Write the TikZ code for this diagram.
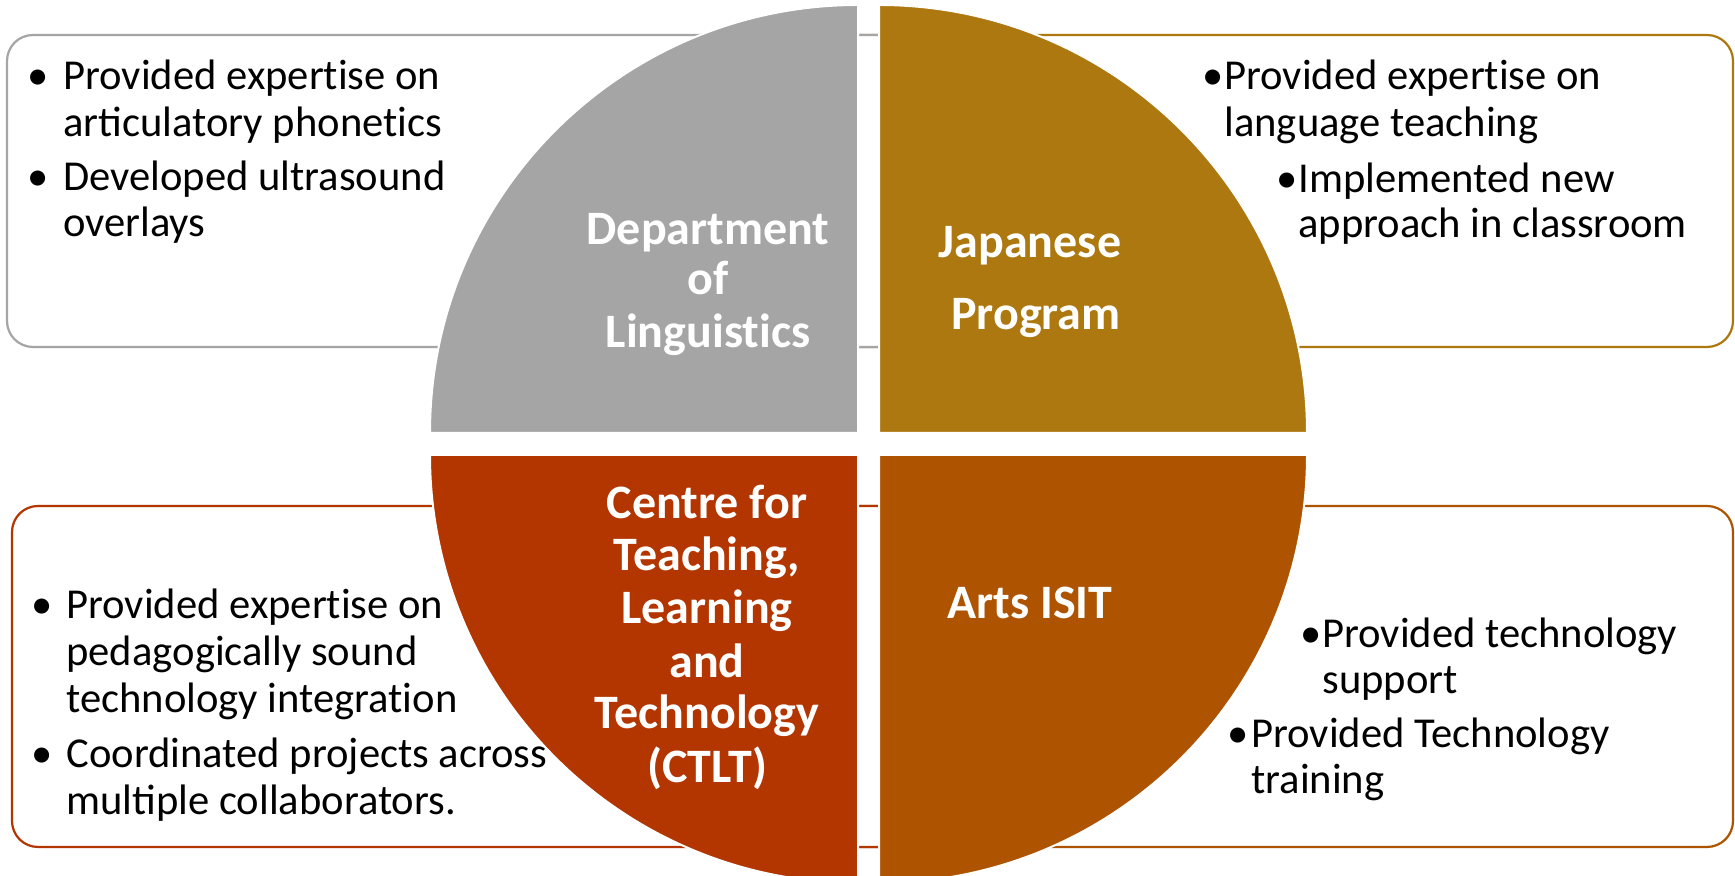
\documentclass[tikz,border=0pt]{standalone}
\usepackage{fontspec}
\setmainfont{Carlito}
\newcommand{\nolig}{\kern0pt }
\definecolor{qgray}{HTML}{A5A5A5}
\definecolor{qgold}{HTML}{AD780F}
\definecolor{qred}{HTML}{B33500}
\definecolor{qbrown}{HTML}{AE5300}
\begin{document}
\begin{tikzpicture}[x=0.5pt,y=0.5pt,
  box/.style={line width=1.1pt, rounded corners=13pt, fill=white},
  quad/.style={draw=white, line width=1pt},
  txt/.style={font=\fontsize{21.3pt}{25pt}\selectfont, inner sep=0pt, anchor=base west},
  bul/.style={font=\fontsize{21.3pt}{25pt}\selectfont, inner sep=0pt, anchor=base},
  ttl/.style={font=\fontsize{24pt}{28pt}\selectfont\bfseries, text=white, inner sep=0pt, anchor=base}]
\useasboundingbox (0,0) rectangle (1735,876);
\clip (0,0) rectangle (1735,876);
\fill[white] (0,0) rectangle (1735,876);
% boxes
\draw[box, draw=qgold] (820,529) rectangle (1733,841);
\draw[box, draw=qgray] (7,529) rectangle (920,841);
\draw[box, draw=qbrown] (820,29) rectangle (1733,370);
\draw[box, draw=qred] (12,29) rectangle (920,370);
% quadrants
\path[quad, fill=qgray] (858,443) -- (430,443) arc[start angle=180, end angle=90, radius=428] -- cycle;
\path[quad, fill=qgold] (879,443) -- (879,871) arc[start angle=90, end angle=0, radius=428] -- cycle;
\path[quad, fill=qred] (858,421) -- (430,421) arc[start angle=180, end angle=270, radius=428] -- cycle;
\path[quad, fill=qbrown] (879,421) -- (1307,421) arc[start angle=0, end angle=-90, radius=428] -- cycle;
% titles
\node[ttl] (d1) at (708,631) {Department};
\node[ttl] (d2) at (708,581) {of};
\node[ttl] (d3) at (708,528) {Linguist\nolig ics};
\node[ttl] (j1) at (1030,618) {Japanese};
\node[ttl] (j2) at (1036,546) {Program};
\node[ttl] (c1) at (707,357) {Centre for};
\node[ttl] (c2) at (707,305) {Teaching,};
\node[ttl] (c3) at (707,252) {Learning};
\node[ttl] (c4) at (707,198) {and};
\node[ttl] (c5) at (707,147) {Technology};
\node[ttl] (c6) at (707,93) {(CTLT)};
\node[ttl] (a1) at (1030,257) {Arts ISIT};
% top-left text
\node[bul] (tlb1) at (38,786) {•};
\node[txt] (tl1) at (63,786) {Provided expert\nolig ise on};
\node[txt] (tl2) at (63,739) {articulatory phonet\nolig ics};
\node[bul] (tlb2) at (38,685) {•};
\node[txt] (tl3) at (63,685) {Developed ultrasound};
\node[txt] (tl4) at (63,639) {overlays};
% top-right text
\node[bul] (trb1) at (1213,786) {•};
\node[txt] (tr1) at (1224,786) {Provided expert\nolig ise on};
\node[txt] (tr2) at (1224,739) {language teaching};
\node[bul] (trb2) at (1287,683) {•};
\node[txt] (tr3) at (1298,683) {Implemented new};
\node[txt] (tr4) at (1298,638) {approach in classroom};
% bottom-left text
\node[bul] (blb1) at (42,257) {•};
\node[txt] (bl1) at (66,257) {Provided expert\nolig ise on};
\node[txt] (bl2) at (66,210) {pedagogically sound};
\node[txt] (bl3) at (66,163) {technology integrat\nolig ion};
\node[bul] (blb2) at (42,108) {•};
\node[txt] (bl4) at (66,108) {Coordinated projects across};
\node[txt] (bl5) at (66,61) {multiple collaborators.};
% bottom-right text
\node[bul] (brb1) at (1311,228) {•};
\node[txt] (br1) at (1322,228) {Provided technology};
\node[txt] (br2) at (1322,182) {support};
\node[bul] (brb2) at (1238,128) {•};
\node[txt] (br3) at (1251,128) {Provided Technology};
\node[txt] (br4) at (1251,82) {training};
\end{tikzpicture}
\end{document}
